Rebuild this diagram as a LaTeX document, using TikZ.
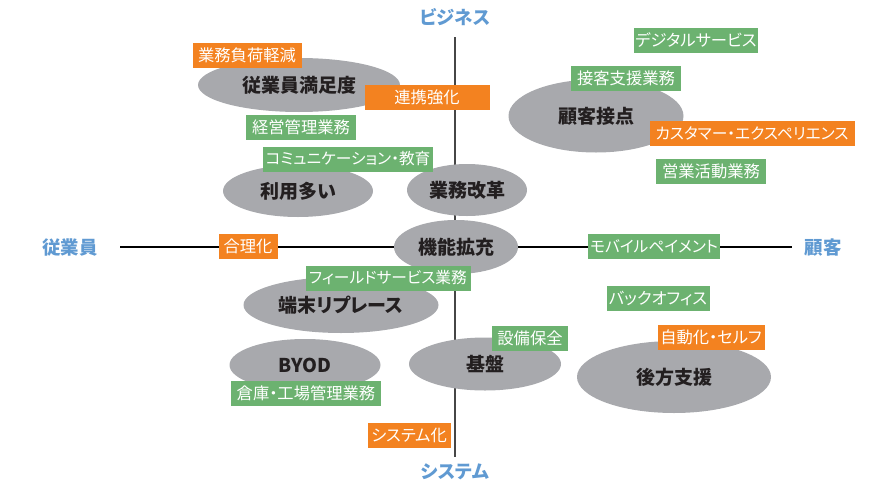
\documentclass[tikz,border=0pt]{standalone}
\usepackage{fontspec}
\usetikzlibrary{shapes.geometric}
\newfontfamily\jp{Noto Sans CJK JP}[RawFeature=+palt]
\definecolor{lgreen}{RGB}{108,178,112}
\definecolor{lorange}{RGB}{243,130,32}
\definecolor{egray}{RGB}{168,169,173}
\definecolor{ablue}{RGB}{96,154,210}
\definecolor{dtext}{RGB}{35,31,32}
\tikzset{
  lab/.style={inner sep=0pt, minimum height=25pt, text=white, font=\jp\fontsize{16.3}{16.3}\selectfont},
  kana/.style={font=\jp\fontsize{15.7}{15.7}\selectfont},
  glab/.style={lab, fill=lgreen},
  olab/.style={lab, fill=lorange},
  ell/.style={ellipse, fill=egray, inner sep=0pt, text=dtext, font=\jp\bfseries\fontsize{19}{19}\selectfont},
  axlab/.style={text=ablue, inner sep=0pt, font=\jp\bfseries\fontsize{18.4}{18.4}\selectfont},
  vaxis/.style={draw={rgb,255:red,70;green,70;blue,70}, line width=1.8pt},
  haxis/.style={draw=black, line width=1.3pt}
}
\begin{document}
\begin{tikzpicture}[x=1pt,y=-1pt]
\useasboundingbox (0,0) rectangle (881,482);
% axes
\coordinate (vt) at (455,37);
\coordinate (vb) at (455,457);
\coordinate (hl) at (120,247);
\coordinate (hr) at (792,247);
\draw[vaxis] (vt) -- (vb);
\draw[haxis] (hl) -- (hr);
% axis labels
\node[axlab] (top) at (455,17) {ビジネス};
\node[axlab] (bot) at (455,472) {システム};
\node[axlab] (lft) at (70,248) {従業員};
\node[axlab] (rgt) at (823,248) {顧客};
% ellipses
\node[ell, minimum width=202pt, minimum height=54pt] (e1) at (299,85) {従業員満足度};
\node[ell, minimum width=175pt, minimum height=73pt] (e2) at (596,116) {顧客接点};
\node[ell, minimum width=150pt, minimum height=52pt] (e3) at (298,191) {利用多い};
\node[ell, minimum width=120pt, minimum height=52pt] (e4) at (467,190) {業務改革};
\node[ell, minimum width=124pt, minimum height=54pt] (e5) at (456,247) {機能拡充};
\node[ell, minimum width=195pt, minimum height=56pt] (e6) at (341,305) {端末リプレース};
\node[ell, minimum width=151pt, minimum height=52pt] (e7) at (305,365) {BYOD};
\node[ell, minimum width=152pt, minimum height=53pt] (e8) at (485,364) {基盤};
\node[ell, minimum width=194pt, minimum height=72pt] (e9) at (674,377) {後方支援};
% labels
\node[olab, minimum width=109pt] (l1) at (247,55) {業務負荷軽減};
\node[olab, minimum width=125pt] (l2) at (427,97) {連携強化};
\node[glab, minimum width=110pt] (l3) at (301,127) {経営管理業務};
\node[glab, kana, minimum width=170pt] (l4) at (348,159) {コミュニケーション・教育};
\node[glab, minimum width=124pt] (l5) at (696,40) {デジタルサービス};
\node[glab, minimum width=110pt] (l6) at (626,78) {接客支援業務};
\node[olab, kana, minimum width=205pt] (l7) at (752,133) {カスタマー・エクスペリエンス};
\node[glab, minimum width=110pt] (l8) at (711,171) {営業活動業務};
\node[olab, minimum width=59pt] (l9) at (248,246) {合理化};
\node[glab, kana, minimum width=132pt] (l10) at (654,246) {モバイルペイメント};
\node[glab, kana, minimum width=165pt] (l11) at (388,278) {フィールドサービス業務};
\node[glab, minimum width=103pt] (l12) at (658,298) {バックオフィス};
\node[glab, minimum width=76pt] (l13) at (530,338) {設備保全};
\node[olab, minimum width=107pt] (l14) at (711,337) {自動化・セルフ};
\node[glab, minimum width=150pt] (l15) at (306,393) {倉庫・工場管理業務};
\node[olab, minimum width=83pt] (l16) at (409,435) {システム化};
\end{tikzpicture}
\end{document}
